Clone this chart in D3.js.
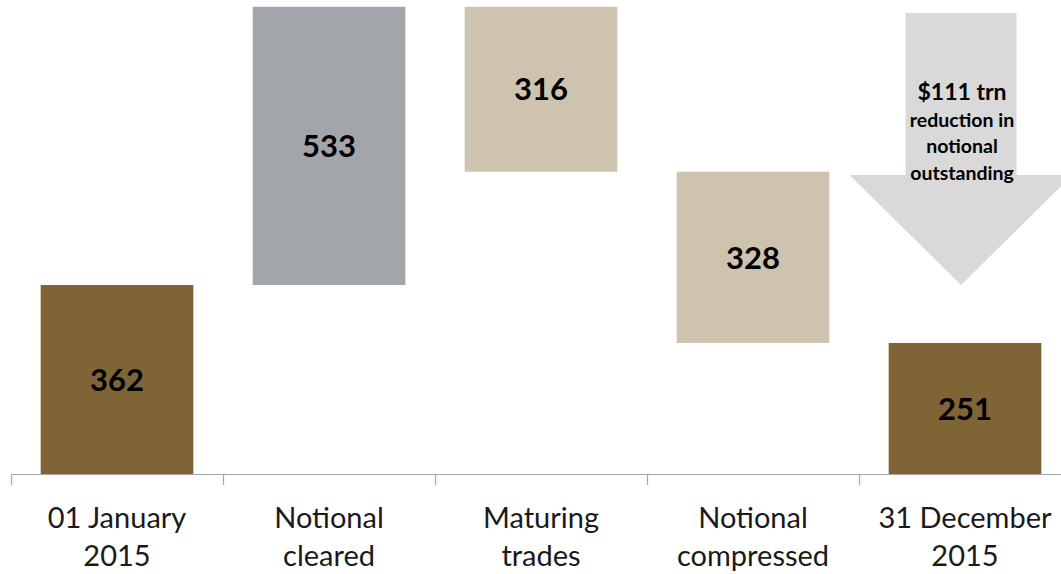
<!DOCTYPE html>
<html>
<head>
<meta charset="utf-8">
<script src="https://cdn.jsdelivr.net/npm/d3@7"></script>
<style>
  html, body { margin: 0; padding: 0; background: #fff; }
  svg { display: block; }
  text { font-family: Lato, "Open Sans", sans-serif; }
</style>
</head>
<body>
<svg id="chart" width="1061" height="574"></svg>
<script>
// ---- data ----
const categories = [["01 January", "2015"], ["Notional", "cleared"], ["Maturing", "trades"], ["Notional", "compressed"], ["31 December", "2015"]];
const values = [362, 533, -316, -328, 251];
const kinds = ["total", "up", "down", "down", "total"];
const arrowLines = ["$111 trn", "reduction in", "notional", "outstanding"];
// arrow annotation in data units: shaft top, head base, tip
const arrowLevels = [883, 573, 362];

// ---- build waterfall ----
let run = 0;
const bars = values.map((v, i) => {
  let y0, y1;
  if (kinds[i] === "total") { y0 = 0; y1 = v; run = v; }
  else { y0 = run; y1 = run + v; run = y1; }
  return { key: categories[i].join(" "), label: categories[i], v: Math.abs(v), lo: Math.min(y0, y1), hi: Math.max(y0, y1), kind: kinds[i] };
});

const colors = { total: "#7f6535", up: "#a2a5aa", down: "#cdc3ae" };

const svg = d3.select("#chart");
const baseY = 474;
const x = d3.scaleBand().domain(bars.map(d => d.key)).range([11, 1071]).paddingInner(0.28).paddingOuter(0.14);
const y = d3.scaleLinear().domain([0, 908]).range([baseY, 0]);

// arrow (behind)
const last = bars[bars.length - 1];
const cx = x(last.key) + x.bandwidth() / 2 - 4;
const shaftHalf = 55.5, headHalf = 111.5;
const pts = [
  [cx - shaftHalf, y(arrowLevels[0])],
  [cx + shaftHalf, y(arrowLevels[0])],
  [cx + shaftHalf, y(arrowLevels[1])],
  [cx + headHalf, y(arrowLevels[1])],
  [cx, y(arrowLevels[2])],
  [cx - headHalf, y(arrowLevels[1])],
  [cx - shaftHalf, y(arrowLevels[1])]
];
svg.append("path").attr("d", d3.line()(pts) + "Z").attr("fill", "#d9d9d9");

const at = svg.append("g").attr("font-weight", "bold").attr("text-anchor", "middle").attr("fill", "#000");
const arrowSizes = [23, 19.5, 19.5, 19.5];
const arrowBase = [100, 127, 153, 180];
arrowLines.forEach((t, i) => {
  at.append("text").attr("x", cx + 1).attr("y", arrowBase[i]).attr("font-size", arrowSizes[i]).text(t);
});

// bars
svg.append("g").selectAll("rect").data(bars).join("rect")
  .attr("x", d => x(d.key))
  .attr("width", x.bandwidth())
  .attr("y", d => y(d.hi))
  .attr("height", d => y(d.lo) - y(d.hi))
  .attr("fill", d => colors[d.kind]);

// value labels
svg.append("g").selectAll("text").data(bars).join("text")
  .attr("x", d => x(d.key) + x.bandwidth() / 2)
  .attr("y", d => (y(d.hi) + y(d.lo)) / 2)
  .attr("dy", "0.36em")
  .attr("text-anchor", "middle")
  .attr("font-size", 31)
  .attr("font-weight", "bold")
  .attr("fill", "#000")
  .text(d => d.v);

// axis
const axis = d3.axisBottom(x).tickSize(0).tickFormat(() => "");
const ag = svg.append("g").attr("transform", `translate(0,${baseY})`).call(axis);
ag.select(".domain").remove();
ag.append("line").attr("x1", 11).attr("x2", 1061).attr("y1", 0.5).attr("y2", 0.5).attr("stroke", "#a6a6a6").attr("stroke-width", 1.2);
const step = x.step();
const bounds = d3.range(bars.length + 1).map(i => x(bars[0].key) - step * 0.14 + i * step);
ag.selectAll(".bt").data(bounds).join("line").attr("class", "bt")
  .attr("x1", d => Math.round(d) + 0.5).attr("x2", d => Math.round(d) + 0.5)
  .attr("y1", 0).attr("y2", 11).attr("stroke", "#a6a6a6").attr("stroke-width", 1.2);

ag.selectAll(".tick").each(function(d, i) {
  const g = d3.select(this);
  g.select("text").remove();
  const t = g.append("text").attr("text-anchor", "middle").attr("fill", "#1a1a1a").attr("font-size", 29);
  t.append("tspan").attr("x", 0).attr("y", 54).text(bars[i].label[0]);
  t.append("tspan").attr("x", 0).attr("y", 92).text(bars[i].label[1]);
});
</script>
</body>
</html>
